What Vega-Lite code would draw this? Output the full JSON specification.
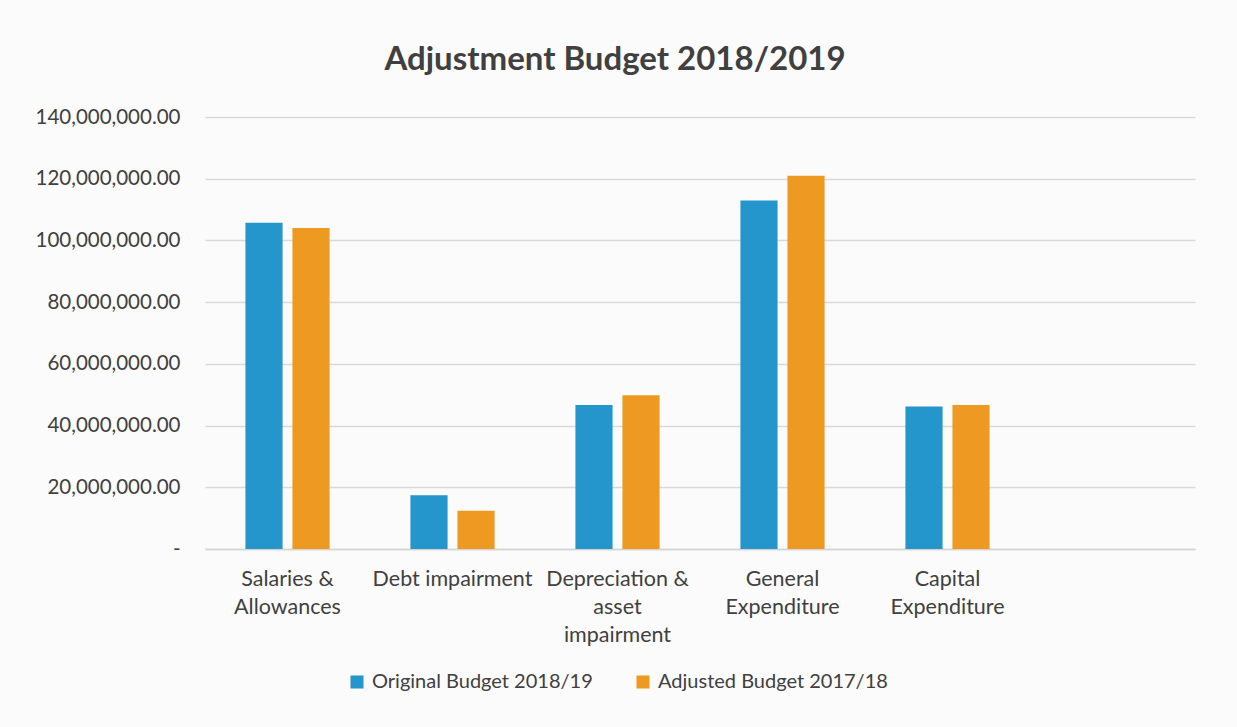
{
  "$schema": "https://vega.github.io/schema/vega-lite/v6.json",
  "width": 990,
  "height": 432,
  "autosize": {"type": "none"},
  "padding": {"left": 205, "top": 117, "right": 42, "bottom": 178},
  "background": "#fbfbfb",
  "title": {
    "text": "Adjustment Budget 2018/2019",
    "anchor": "middle",
    "frame": "group",
    "dx": -85,
    "offset": 30,
    "font": "Lato",
    "fontSize": 33,
    "fontWeight": "bold",
    "color": "#404040"
  },
  "data": {
    "values": [
      {"category": "Salaries & Allowances", "series": "Original Budget 2018/19", "value": 105700000},
      {"category": "Salaries & Allowances", "series": "Adjusted Budget 2017/18", "value": 104000000},
      {"category": "Debt impairment", "series": "Original Budget 2018/19", "value": 17400000},
      {"category": "Debt impairment", "series": "Adjusted Budget 2017/18", "value": 12400000},
      {"category": "Depreciation & asset impairment", "series": "Original Budget 2018/19", "value": 46700000},
      {"category": "Depreciation & asset impairment", "series": "Adjusted Budget 2017/18", "value": 49800000},
      {"category": "General Expenditure", "series": "Original Budget 2018/19", "value": 112900000},
      {"category": "General Expenditure", "series": "Adjusted Budget 2017/18", "value": 121000000},
      {"category": "Capital Expenditure", "series": "Original Budget 2018/19", "value": 46200000},
      {"category": "Capital Expenditure", "series": "Adjusted Budget 2017/18", "value": 46700000}
    ]
  },
  "mark": {"type": "bar"},
  "encoding": {
    "x": {
      "field": "category",
      "type": "nominal",
      "scale": {
        "domain": ["Salaries & Allowances", "Debt impairment", "Depreciation & asset impairment", "General Expenditure", "Capital Expenditure", " "],
        "paddingInner": 0.49,
        "paddingOuter": 0.245
      },
      "axis": {
        "title": null,
        "labelAngle": 0,
        "labelFont": "Lato",
        "labelFontSize": 21.5,
        "labelColor": "#404040",
        "labelPadding": 19,
        "labelLineHeight": 28,
        "labelBaseline": "top",
        "labelExpr": "datum.label == 'Salaries & Allowances' ? ['Salaries &', 'Allowances'] : datum.label == 'Depreciation & asset impairment' ? ['Depreciation &', 'asset', 'impairment'] : datum.label == 'General Expenditure' ? ['General', 'Expenditure'] : datum.label == 'Capital Expenditure' ? ['Capital', 'Expenditure'] : datum.label",
        "ticks": false,
        "domain": true,
        "domainColor": "#d4d4d4",
        "domainWidth": 1.5,
        "grid": false,
        "labelLimit": 300
      }
    },
    "xOffset": {
      "field": "series",
      "type": "nominal",
      "sort": ["Original Budget 2018/19", "Adjusted Budget 2017/18"],
      "scale": {"paddingInner": 0.21, "paddingOuter": 0}
    },
    "y": {
      "field": "value",
      "type": "quantitative",
      "scale": {"domain": [0, 140000000], "nice": false},
      "axis": {
        "title": null,
        "values": [0, 20000000, 40000000, 60000000, 80000000, 100000000, 120000000, 140000000],
        "labelExpr": "datum.value == 0 ? '-\u00a0\u00a0\u00a0' : format(datum.value, ',.2f')",
        "labelFont": "Lato",
        "labelFontSize": 20.5,
        "labelColor": "#404040",
        "labelPadding": 25,
        "ticks": false,
        "domain": false,
        "gridColor": "#d9d9d9",
        "gridWidth": 1.5
      }
    },
    "color": {
      "field": "series",
      "type": "nominal",
      "scale": {
        "domain": ["Original Budget 2018/19", "Adjusted Budget 2017/18"],
        "range": ["#2596cc", "#ee9a22"]
      },
      "legend": {
        "title": null,
        "orient": "none",
        "direction": "horizontal",
        "legendX": 142,
        "legendY": 555,
        "symbolType": "square",
        "symbolSize": 170,
        "labelFont": "Lato",
        "labelFontSize": 20,
        "labelColor": "#404040",
        "labelOffset": 5,
        "columnPadding": 40,
        "labelLimit": 400
      }
    }
  },
  "config": {
    "view": {"stroke": null}
  }
}
